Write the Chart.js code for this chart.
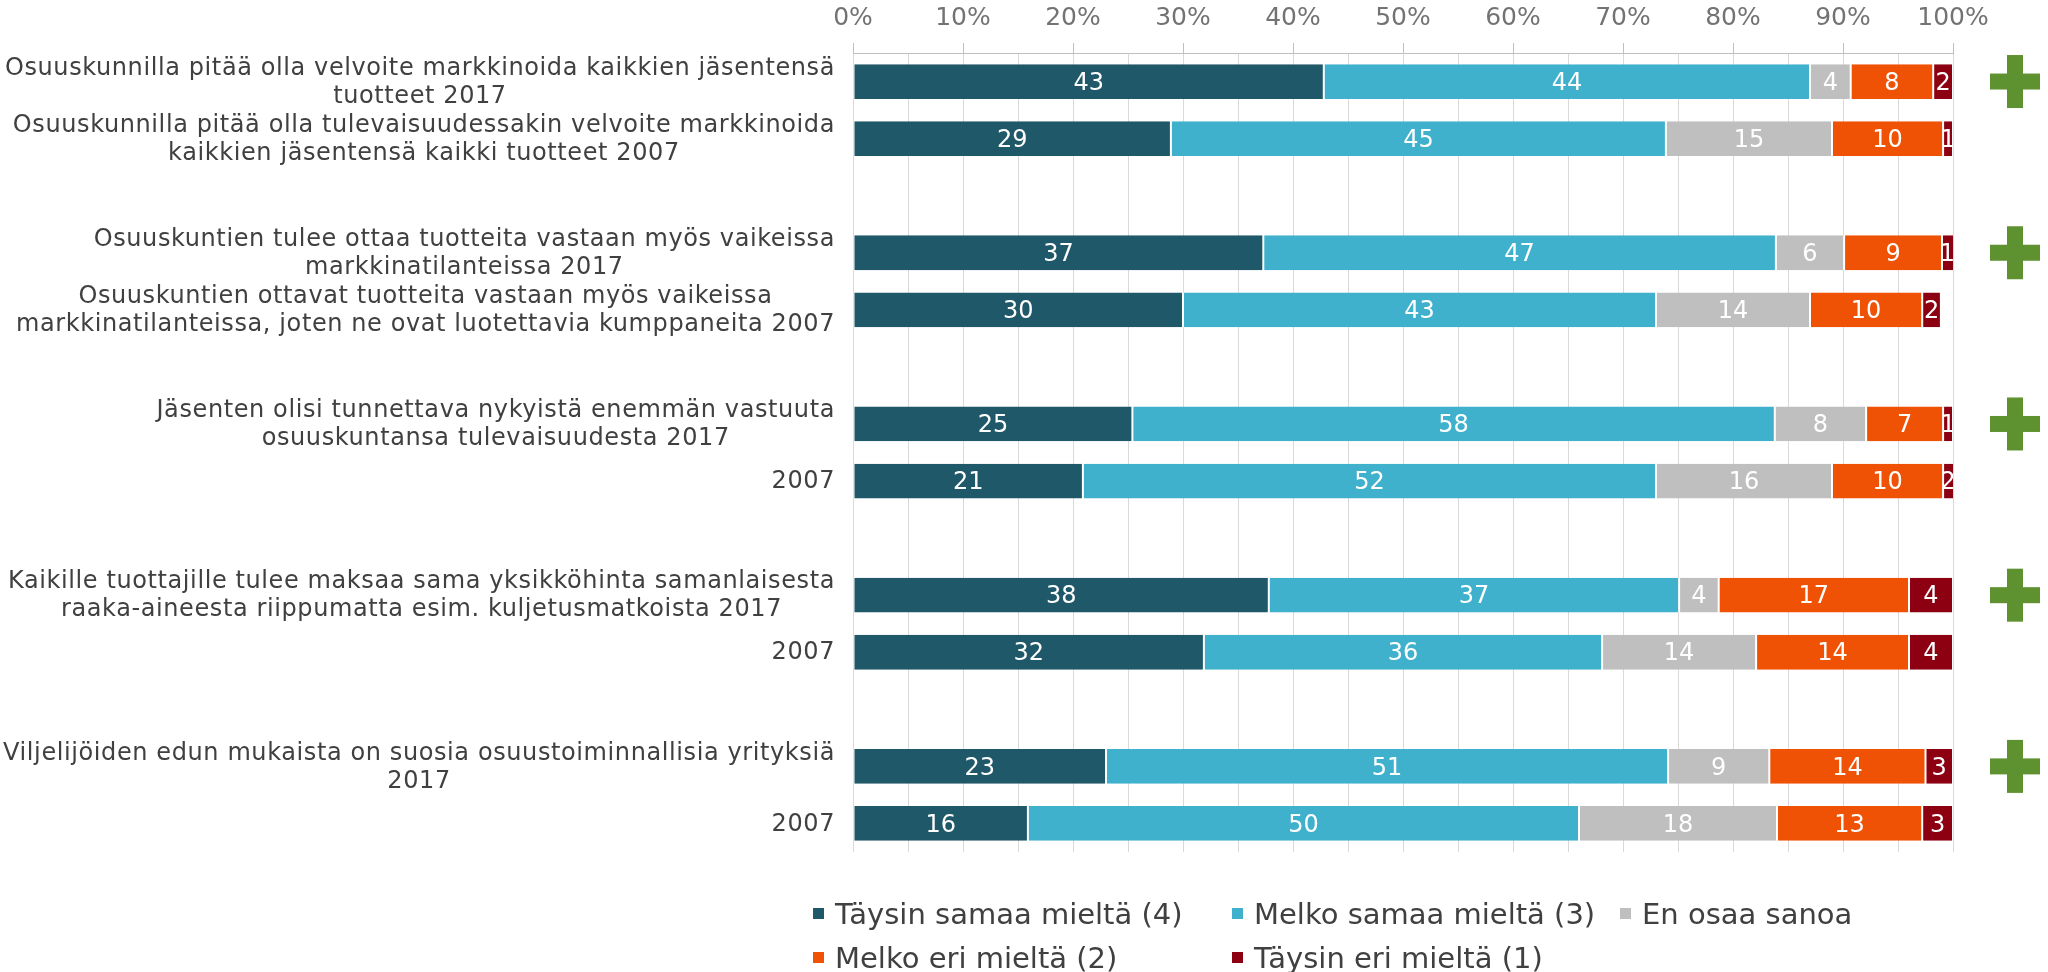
<!DOCTYPE html>
<html>
<head>
<meta charset="utf-8">
<script src="https://cdn.jsdelivr.net/npm/chart.js@4.4.0/dist/chart.umd.min.js"></script>
<style>
    body { margin: 0; background: #fff; }
    #wrap { position: relative; width: 2048px; height: 972px; }
    #legend {
        position: absolute; left: 813px; top: 892px;
        font: 29px 'DejaVu Sans'; line-height: 44px; color: #404040;
        display: grid; grid-template-columns: 419px 388px auto;
    }
    .item { white-space: nowrap; }
    .box { display: inline-block; width: 11px; height: 11px; margin-right: 11px; vertical-align: 5px; }
</style>
</head>
<body>
<div id="wrap">
    <canvas id="chart" width="2048" height="972"></canvas>
    <div id="legend"></div>
</div>
<script>
// 행 라벨 (2017 / 2007 쌍)
const rowLabels = [
    ['Osuuskunnilla pitää olla velvoite markkinoida kaikkien jäsentensä', 'tuotteet 2017'],
    ['Osuuskunnilla pitää olla tulevaisuudessakin velvoite markkinoida', 'kaikkien jäsentensä kaikki tuotteet 2007'],
    ['Osuuskuntien tulee ottaa tuotteita vastaan myös vaikeissa', 'markkinatilanteissa 2017'],
    ['Osuuskuntien ottavat tuotteita vastaan myös vaikeissa', 'markkinatilanteissa, joten ne ovat luotettavia kumppaneita 2007'],
    ['Jäsenten olisi tunnettava nykyistä enemmän vastuuta', 'osuuskuntansa tulevaisuudesta 2017'],
    ['2007'],
    ['Kaikille tuottajille tulee maksaa sama yksikköhinta samanlaisesta', 'raaka-aineesta riippumatta esim. kuljetusmatkoista 2017'],
    ['2007'],
    ['Viljelijöiden edun mukaista on suosia osuustoiminnallisia yrityksiä', '2017'],
    ['2007']
];

// 응답 비율 (%)
const taysinSamaa = [42.8, 28.9, 37.3, 30.0, 25.4, 20.9, 37.8, 31.9, 23.0, 15.9];
const melkoSamaa  = [44.2, 45.0, 46.6, 43.0, 58.4, 52.1, 37.3, 36.2, 51.1, 50.1];
const enOsaa      = [3.7, 15.1, 6.2, 14.0, 8.3, 16.0, 3.6, 14.0, 9.2, 18.0];
const melkoEri    = [7.5, 10.1, 8.9, 10.2, 7.0, 10.1, 17.3, 13.9, 14.2, 13.2];
const taysinEri   = [1.8, 0.9, 1.1, 1.7, 0.9, 1.5, 4.0, 4.0, 2.5, 2.8];

const seriesNames = ['Täysin samaa mieltä (4)', 'Melko samaa mieltä (3)', 'En osaa sanoa', 'Melko eri mieltä (2)', 'Täysin eri mieltä (1)'];
const seriesColors = ['#1f5868', '#3fb1cd', '#bfbfbf', '#ef5205', '#8c0012'];

// 유의한 변화 표시 (+)
const plusRows = [true, false, true, false, true, false, true, false, true, false];

const xTicks = [0, 10, 20, 30, 40, 50, 60, 70, 80, 90, 100];

// 쌍 사이에 빈 칸 넣기
function withGaps(arr, gap) {
    const out = [];
    arr.forEach((v, i) => {
        if (i > 0 && i % 2 === 0) out.push(gap);
        out.push(v);
    });
    return out;
}

const slotLabels = withGaps(rowLabels, null);
const slotPlus = withGaps(plusRows, false);

const LABEL_FONT = '24px "DejaVu Sans"';
const LINE_H = 28;

// 왼쪽 라벨: 블록은 오른쪽 정렬, 줄은 가운데 정렬
const rowLabelPlugin = {
    id: 'rowLabels',
    afterDraw(chart) {
        const ctx = chart.ctx;
        const yScale = chart.scales.y;
        const right = chart.chartArea.left - 18;
        ctx.save();
        ctx.font = LABEL_FONT;
        ctx.letterSpacing = '0.6px';
        ctx.fillStyle = '#404040';
        ctx.textAlign = 'center';
        ctx.textBaseline = 'middle';
        slotLabels.forEach((lines, idx) => {
            if (!lines) return;
            const cy = yScale.getPixelForValue(idx);
            const maxW = Math.max(...lines.map(l => ctx.measureText(l).width));
            const cx = right - maxW / 2;
            lines.forEach((line, k) => {
                ctx.fillText(line, cx, cy + 1 + (k - (lines.length - 1) / 2) * LINE_H);
            });
        });
        ctx.restore();
    }
};

// 막대 안 값 라벨
const valueLabelPlugin = {
    id: 'valueLabels',
    afterDatasetsDraw(chart) {
        const ctx = chart.ctx;
        ctx.save();
        ctx.font = '24px "DejaVu Sans"';
        ctx.fillStyle = '#ffffff';
        ctx.textAlign = 'center';
        ctx.textBaseline = 'middle';
        chart.data.datasets.forEach((ds, i) => {
            const meta = chart.getDatasetMeta(i);
            meta.data.forEach((bar, j) => {
                const v = ds.data[j];
                if (v == null) return;
                const p = bar.getProps(['x', 'y', 'base', 'height'], true);
                const left = Math.min(p.base, p.x);
                const right = Math.min(Math.max(p.base, p.x), chart.chartArea.right);
                ctx.save();
                ctx.beginPath();
                ctx.rect(left, p.y - p.height / 2, right - left, p.height);
                ctx.clip();
                ctx.fillText(String(Math.round(v)), (left + right) / 2, p.y + 2);
                ctx.restore();
            });
        });
        ctx.restore();
    }
};

// 오른쪽 초록색 + 표시
const plusPlugin = {
    id: 'plusMarks',
    afterDraw(chart) {
        const ctx = chart.ctx;
        const yScale = chart.scales.y;
        const cx = chart.chartArea.right + 62;
        ctx.save();
        ctx.fillStyle = '#5e9130';
        slotPlus.forEach((show, idx) => {
            if (!show) return;
            const cy = yScale.getPixelForValue(idx);
            ctx.fillRect(cx - 8, cy - 26.5, 16, 53);
            ctx.fillRect(cx - 25, cy - 8, 50, 16);
        });
        ctx.restore();
    }
};

const seriesValues = [taysinSamaa, melkoSamaa, enOsaa, melkoEri, taysinEri];

const chart = new Chart(document.getElementById('chart').getContext('2d'), {
    type: 'bar',
    data: {
        labels: slotLabels.map(l => (l ? l.join(' ') : '')),
        datasets: seriesValues.map((vals, i) => ({
            label: seriesNames[i],
            data: withGaps(vals, null),
            backgroundColor: seriesColors[i],
            borderColor: '#ffffff',
            borderWidth: { left: 1, right: 1 },
            borderSkipped: false,
            barPercentage: 0.61,
            categoryPercentage: 1
        }))
    },
    options: {
        indexAxis: 'y',
        responsive: false,
        animation: false,
        layout: {
            padding: { left: 853, right: 95, top: 0, bottom: 120 }
        },
        plugins: {
            legend: { display: false },
            tooltip: { enabled: false }
        },
        scales: {
            x: {
                position: 'top',
                stacked: true,
                min: 0,
                max: 100,
                afterBuildTicks(scale) {
                    const ticks = [];
                    for (let v = 0; v <= 100; v += 5) ticks.push({ value: v });
                    scale.ticks = ticks;
                },
                afterFit(scale) {
                    scale.height = 53;
                },
                grid: {
                    color: '#d9d9d9',
                    tickLength: 10,
                    tickColor: ctx => (ctx.tick && xTicks.includes(ctx.tick.value) ? '#bfbfbf' : 'rgba(0,0,0,0)')
                },
                border: { color: '#bfbfbf' },
                ticks: {
                    autoSkip: false,
                    maxRotation: 0,
                    padding: 10,
                    color: '#737373',
                    font: { family: 'DejaVu Sans', size: 25 },
                    callback: v => (xTicks.includes(v) ? v + '%' : '')
                }
            },
            y: {
                stacked: true,
                display: false
            }
        }
    },
    plugins: [rowLabelPlugin, valueLabelPlugin, plusPlugin]
});

// 범례 (HTML)
const legendEl = document.getElementById('legend');
seriesNames.forEach((name, i) => {
    const item = document.createElement('div');
    item.className = 'item';
    item.innerHTML = `<span class="box" style="background:${seriesColors[i]}"></span>${name}`;
    legendEl.appendChild(item);
});
</script>
</body>
</html>
